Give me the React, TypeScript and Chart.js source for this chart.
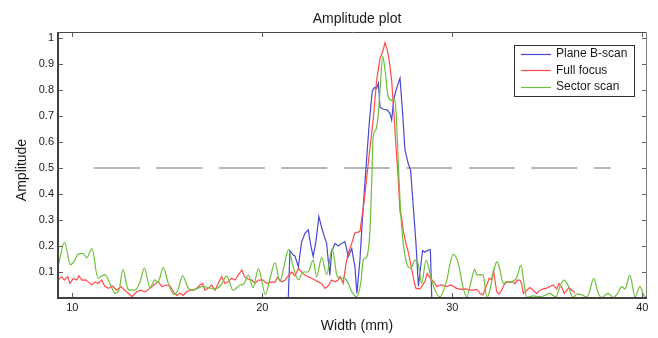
import React, { useEffect, useRef } from 'react';
import { Chart, registerables } from 'chart.js';

Chart.register(...registerables);

// ---------- data ----------
const chartTitle = 'Amplitude plot';
const xAxisLabel = 'Width (mm)';
const yAxisLabel = 'Amplitude';
const seriesLabels = ['Plane B-scan', 'Full focus', 'Sector scan'];

const xTicks = [10, 20, 30, 40];
const yTicks = [0.1, 0.2, 0.3, 0.4, 0.5, 0.6, 0.7, 0.8, 0.9, 1];

// Plane B-scan (blue)
const planeX = [
  21.37, 21.46, 21.63, 21.72, 21.90, 22.07, 22.25, 22.42, 22.56, 22.68,
  22.83, 22.98, 23.13, 23.25, 23.39, 23.47, 23.56, 23.65, 23.83, 24.00,
  24.18, 24.35, 24.53, 24.71, 24.88, 24.98, 25.14, 25.28, 25.47, 25.64,
  25.79, 25.91, 26.02, 26.11, 26.20, 26.37, 26.58, 26.72, 26.81, 26.93,
  27.07, 27.25, 27.39, 27.51, 27.68, 27.81, 27.95, 28.09, 28.22, 28.30,
  28.44, 28.56, 28.74, 28.85, 28.92,
];
const planeY = [
  0, 0.182, 0.165, 0.162, 0.12, 0.215, 0.249, 0.262, 0.2, 0.16,
  0.22, 0.313, 0.27, 0.24, 0.21, 0.146, 0.088, 0.178, 0.21, 0.2,
  0.21, 0.217, 0.159, 0.19, 0.12, 0.018, 0.145, 0.313, 0.51, 0.68,
  0.795, 0.81, 0.806, 0.826, 0.733, 0.726, 0.723, 0.71, 0.685, 0.768,
  0.806, 0.845, 0.71, 0.57, 0.518, 0.49, 0.351, 0.21, 0.045, 0.1,
  0.182, 0.176, 0.185, 0.185, 0,
];

// Full focus (red)
const fullX = [
  9.25, 9.44, 9.58, 9.76, 9.88, 10.05, 10.23, 10.35, 10.50, 10.71,
  10.84, 11.02, 11.20, 11.37, 11.55, 11.72, 11.93, 12.11, 12.34, 12.56,
  12.77, 12.95, 13.16, 13.39, 13.62, 13.83, 14.09, 14.30, 14.53, 14.71,
  14.97, 15.14, 15.32, 15.50, 15.67, 15.84, 16.02, 16.20, 16.37, 16.55,
  16.72, 16.86, 16.98, 17.16, 17.34, 17.51, 17.68, 17.86, 18.04, 18.21,
  18.39, 18.56, 18.74, 18.92, 19.09, 19.26, 19.44, 19.62, 19.79, 20.05,
  20.23, 20.50, 20.67, 20.81, 21.02, 21.20, 21.37, 21.55, 21.72, 21.90,
  22.07, 22.25, 22.42, 22.60, 22.77, 22.95, 23.13, 23.30, 23.47, 23.65,
  23.83, 24.00, 24.09, 24.26, 24.41, 24.53, 24.71, 24.88, 25.14, 25.35,
  25.58, 25.84, 26.02, 26.20, 26.34, 26.46, 26.58, 26.68, 26.81, 26.93,
  27.04, 27.16, 27.25, 27.34, 27.42, 27.56, 27.68, 27.86, 27.98, 28.09,
  28.30, 28.56, 28.68, 28.92, 29.04, 29.18, 29.41, 29.71, 29.93, 30.23,
  30.47, 30.67, 30.93, 31.11, 31.30, 31.46, 31.62, 31.72, 31.95, 32.07,
  32.17, 32.34, 32.46, 32.60, 32.72, 32.86, 33.04, 33.20, 33.30, 33.42,
  33.56, 33.65, 33.74, 33.92, 34.09, 34.26, 34.44, 34.62, 34.79, 34.97,
  35.14, 35.32, 35.50, 35.62, 35.77, 35.90, 36.04, 36.14, 36.30, 36.46,
];
const fullY = [
  0.069, 0.082, 0.069, 0.082, 0.056, 0.075, 0.069, 0.086, 0.069, 0.07,
  0.062, 0.05, 0.062, 0.056, 0.069, 0.044, 0.037, 0.047, 0.03, 0.044,
  0.03, 0.018, 0.005, 0.024, 0.03, 0.024, 0.037, 0.05, 0.063, 0.044,
  0.05, 0.047, 0.024, 0.01, 0.018, 0.01, 0.024, 0.03, 0.03, 0.037,
  0.05, 0.056, 0.03, 0.037, 0.05, 0.03, 0.056, 0.082, 0.056, 0.063,
  0.076, 0.069, 0.088, 0.108, 0.08, 0.072, 0.069, 0.056, 0.069, 0.069,
  0.056, 0.062, 0.06, 0.08, 0.062, 0.069, 0.085, 0.1, 0.085, 0.114,
  0.1, 0.088, 0.082, 0.076, 0.069, 0.062, 0.056, 0.037, 0.046, 0.069,
  0.062, 0.069, 0.082, 0.056, 0.133, 0.172, 0.21, 0.251, 0.255, 0.364,
  0.518, 0.685, 0.838, 0.922, 0.947, 0.982, 0.954, 0.915, 0.838, 0.71,
  0.582, 0.454, 0.332, 0.306, 0.26, 0.21, 0.178, 0.114, 0.069, 0.037,
  0.035, 0.063, 0.095, 0.069, 0.062, 0.044, 0.05, 0.044, 0.05, 0.037,
  0.033, 0.035, 0.03, 0.03, 0.033, 0.018, 0.012, 0.033, 0.076, 0.07,
  0.105, 0.024, 0.015, 0.03, 0.05, 0.063, 0.06, 0.063, 0.055, 0.069,
  0.069, 0.055, 0.018, 0.03, 0.04, 0.03, 0.018, 0.03, 0.035, 0.038,
  0.044, 0.05, 0.035, 0.056, 0.04, 0.018, 0.03, 0.04, 0.03, 0.02,
];

// Sector scan (green)
const sectorX = [
  9.25, 9.59, 9.91, 10.09, 10.30, 10.56, 10.77, 11.04, 11.35, 11.56,
  11.72, 11.98, 12.25, 12.46, 12.67, 12.91, 13.04, 13.30, 13.56, 13.80,
  14.09, 14.35, 14.51, 14.79, 15.04, 15.35, 15.56, 15.81, 16.09, 16.35,
  16.62, 16.88, 17.14, 17.51, 17.83, 18.14, 18.46, 18.83, 19.04, 19.27,
  19.51, 19.80, 20.17, 20.41, 20.67, 20.93, 21.14, 21.38, 21.63, 21.90,
  22.16, 22.41, 22.68, 22.86, 23.13, 23.39, 23.68, 23.92, 24.09, 24.30,
  24.53, 24.71, 24.97, 25.18, 25.32, 25.50, 25.67, 25.76, 25.84, 25.98,
  26.11, 26.20, 26.34, 26.46, 26.63, 26.81, 26.95, 27.04, 27.16, 27.28,
  27.42, 27.60, 27.81, 28.04, 28.21, 28.39, 28.62, 28.83, 29.05, 29.35,
  29.67, 30.05, 30.32, 30.58, 30.77, 30.98, 31.18, 31.30, 31.46, 31.62,
  31.83, 32.04, 32.20, 32.35, 32.51, 32.68, 32.88, 33.04, 33.25, 33.41,
  33.62, 33.77, 33.92, 34.25, 34.62, 34.88, 35.14, 35.30, 35.46, 35.67,
  35.88, 36.09, 36.35, 36.56, 36.83, 37.09, 37.25, 37.44, 37.68, 37.85,
  38.21, 38.47, 38.72, 38.92, 39.09, 39.35, 39.62, 39.88, 40.09, 40.25,
];
const sectorY = [
  0.12, 0.214, 0.128, 0.14, 0.168, 0.172, 0.155, 0.19, 0.076, 0.085,
  0.09, 0.056, 0.018, 0.03, 0.11, 0.037, 0.03, 0.03, 0.06, 0.115,
  0.04, 0.07, 0.06, 0.117, 0.06, 0.014, 0.03, 0.085, 0.04, 0.03,
  0.038, 0.045, 0.04, 0.035, 0.05, 0.085, 0.03, 0.05, 0.055, 0.088,
  0.04, 0.112, 0.014, 0.075, 0.135, 0.063, 0.12, 0.186, 0.12, 0.07,
  0.1, 0.1, 0.146, 0.082, 0.155, 0.09, 0.19, 0.09, 0.076, 0.078,
  0.056, 0.024, 0.005, 0.056, 0.146, 0.159, 0.26, 0.44, 0.62, 0.646,
  0.71, 0.8, 0.928, 0.877, 0.774, 0.76, 0.766, 0.72, 0.518, 0.338,
  0.21, 0.133, 0.114, 0.146, 0.13, 0.056, 0.146, 0.095, 0.037, 0.005,
  0.057, 0.168, 0.133, 0.037, 0.005, 0.06, 0.11, 0.088, 0.09, 0.088,
  0.002, 0.05, 0.108, 0.14, 0.108, 0.057, 0.06, 0.063, 0.066, 0.082,
  0.127, 0.06, 0.003, 0.008, 0.005, 0.01, 0.018, 0.01, 0.005, 0.044,
  0.069, 0.05, 0.002, 0.015, 0.012, 0.003, 0.03, 0.076, 0.02, 0.002,
  0.018, 0.002, 0.02, 0.044, 0.035, 0.088, 0.005, 0.044, 0.01, 0.002,
];

// half-maximum reference line
const halfX = [11.14, 38.35];
const halfY = [0.5, 0.5];

const FONT = "'Liberation Sans', Arial, Helvetica, sans-serif";
const TEXT = '#1a1a1a';

const toPoints = (xs: number[], ys: number[]) => xs.map((x, i) => ({ x, y: ys[i] }));

const decorPlugin = {
  id: 'matlabDecor',
  afterDraw(chart: any) {
    const { ctx, chartArea: a, scales } = chart;
    const xs = scales.x;
    const ys = scales.y;
    ctx.save();

    // inward tick marks on all four sides
    ctx.strokeStyle = '#606060';
    ctx.lineWidth = 1;
    ctx.beginPath();
    for (const v of xTicks) {
      const p = Math.round(xs.getPixelForValue(v)) + 0.5;
      ctx.moveTo(p, a.bottom);
      ctx.lineTo(p, a.bottom - 5);
      ctx.moveTo(p, a.top);
      ctx.lineTo(p, a.top + 5);
    }
    for (const v of yTicks) {
      const p = Math.round(ys.getPixelForValue(v)) + 0.5;
      ctx.moveTo(a.left, p);
      ctx.lineTo(a.left + 5, p);
      ctx.moveTo(a.right, p);
      ctx.lineTo(a.right - 5, p);
    }
    ctx.stroke();

    // box
    ctx.strokeStyle = '#4a4a4a';
    ctx.lineWidth = 1;
    ctx.beginPath();
    ctx.moveTo(a.left, a.top + 0.5);
    ctx.lineTo(a.right, a.top + 0.5);
    ctx.stroke();
    ctx.strokeStyle = '#808080';
    ctx.beginPath();
    ctx.moveTo(a.right - 0.5, a.top);
    ctx.lineTo(a.right - 0.5, a.bottom);
    ctx.stroke();
    ctx.strokeStyle = '#404040';
    ctx.lineWidth = 2;
    ctx.beginPath();
    ctx.moveTo(a.left, a.top);
    ctx.lineTo(a.left, a.bottom);
    ctx.lineTo(a.right, a.bottom);
    ctx.stroke();

    // legend
    const lx = a.right - 133;
    const ly = a.top + 13;
    const lw = 120;
    const lh = 51;
    ctx.fillStyle = '#ffffff';
    ctx.fillRect(lx, ly, lw, lh);
    ctx.strokeStyle = '#303030';
    ctx.lineWidth = 1;
    ctx.strokeRect(lx + 0.5, ly + 0.5, lw, lh);
    ctx.font = `12px ${FONT}`;
    ctx.textBaseline = 'middle';
    ctx.textAlign = 'left';
    const legendSets = chart.data.datasets.filter((d: any) => seriesLabels.includes(d.label));
    legendSets.forEach((d: any, i: number) => {
      const y = ly + 8.5 + i * 16.5;
      ctx.strokeStyle = d.borderColor;
      ctx.lineWidth = 1.2;
      ctx.beginPath();
      ctx.moveTo(lx + 7, Math.round(y) + 0.5);
      ctx.lineTo(lx + 37, Math.round(y) + 0.5);
      ctx.stroke();
      ctx.fillStyle = TEXT;
      ctx.fillText(d.label, lx + 42, y + 0.5);
    });

    // title and axis labels
    const cx = (a.left + a.right) / 2 + 4.5;
    ctx.fillStyle = TEXT;
    ctx.font = `14px ${FONT}`;
    ctx.textAlign = 'center';
    ctx.textBaseline = 'alphabetic';
    ctx.fillText(chartTitle, cx, 22.5);
    ctx.fillText(xAxisLabel, cx, 330);
    ctx.save();
    ctx.translate(25.5, (a.top + a.bottom) / 2 + 5);
    ctx.rotate(-Math.PI / 2);
    ctx.fillText(yAxisLabel, 0, 0);
    ctx.restore();

    ctx.restore();
  },
};

export default function App() {
  const canvasRef = useRef<HTMLCanvasElement | null>(null);

  useEffect(() => {
    const canvas = canvasRef.current;
    if (!canvas) return;
    const chart = new Chart(canvas, {
      type: 'line',
      data: {
        datasets: [
          {
            label: 'half',
            data: toPoints(halfX, halfY),
            borderColor: '#a0a0a0',
            borderWidth: 1.3,
            borderDash: [46, 16.5],
            pointRadius: 0,
            order: 4,
          },
          {
            label: seriesLabels[0],
            data: toPoints(planeX, planeY),
            borderColor: '#4848d0',
            borderWidth: 1.2,
            pointRadius: 0,
            tension: 0,
            order: 3,
          },
          {
            label: seriesLabels[1],
            data: toPoints(fullX, fullY),
            borderColor: '#ff4a4a',
            borderWidth: 1.2,
            pointRadius: 0,
            tension: 0,
            order: 2,
          },
          {
            label: seriesLabels[2],
            data: toPoints(sectorX, sectorY),
            borderColor: '#6cc03a',
            borderWidth: 1.2,
            pointRadius: 0,
            cubicInterpolationMode: 'monotone',
            order: 1,
          },
        ],
      },
      options: {
        responsive: false,
        animation: false,
        devicePixelRatio: 1,
        events: [],
        layout: { padding: { left: 0, right: 11, top: 32, bottom: 0 } },
        plugins: {
          legend: { display: false },
          title: { display: false },
          tooltip: { enabled: false },
        },
        scales: {
          x: {
            type: 'linear',
            min: 9.25,
            max: 40.25,
            grid: { display: false, drawTicks: false },
            border: { display: false },
            afterBuildTicks: (s: any) => {
              s.ticks = xTicks.map((v) => ({ value: v }));
            },
            afterFit: (s: any) => {
              s.height = 40;
            },
            ticks: {
              autoSkip: false,
              maxRotation: 0,
              padding: 3,
              color: TEXT,
              font: { size: 11, family: FONT },
              callback: (v: any) => String(v),
            },
          },
          y: {
            type: 'linear',
            min: 0,
            max: 1.023,
            grid: { display: false, drawTicks: false },
            border: { display: false },
            afterBuildTicks: (s: any) => {
              s.ticks = yTicks.map((v) => ({ value: v }));
            },
            afterFit: (s: any) => {
              s.width = 58;
            },
            ticks: {
              padding: 4,
              color: TEXT,
              font: { size: 11, family: FONT },
              callback: (v: any) => String(v),
            },
          },
        },
      },
      plugins: [decorPlugin],
    });
    return () => chart.destroy();
  }, []);

  return (
    <div style={{ position: 'fixed', left: 0, top: 0, width: 658, height: 338, background: '#ffffff' }}>
      <canvas ref={canvasRef} width={658} height={338} style={{ display: 'block', width: 658, height: 338 }} />
    </div>
  );
}
